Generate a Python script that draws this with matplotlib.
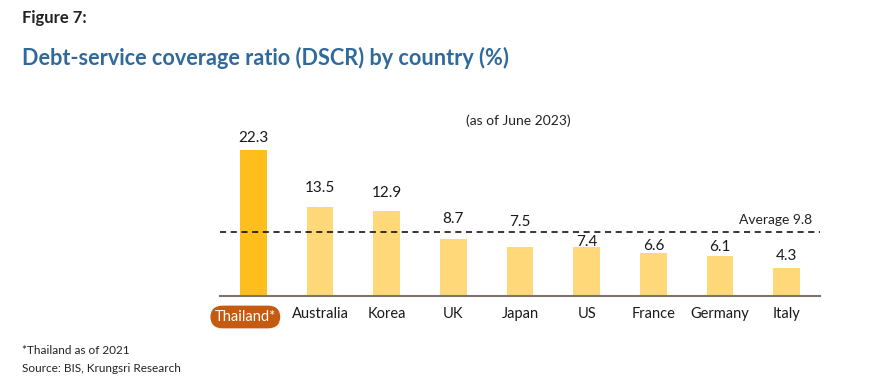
import matplotlib.pyplot as plt

plt.rcParams["font.family"] = ["Lato", "DejaVu Sans"]

countries = ["Thailand*", "Australia", "Korea", "UK", "Japan", "US", "France", "Germany", "Italy"]
dscr = [22.3, 13.5, 12.9, 8.7, 7.5, 7.4, 6.6, 6.1, 4.3]
average = 9.8

HIGHLIGHT = "#FDBE1E"
BAR = "#FFD87A"
TITLE_BLUE = "#2F6A9B"
BOX = "#C55A11"

# gap (px) between bar top and label baseline, hand-placed like in the original
label_gap = [8, 15, 14, 16, 21, 1, 3, 5, 8]

fig = plt.figure(figsize=(8.7, 3.87), dpi=100)
ax = fig.add_axes([220 / 870, 1 - 296 / 387, 600 / 870, 166 / 387])

x = list(range(len(countries)))
colors = [HIGHLIGHT] + [BAR] * (len(countries) - 1)
ax.bar(x, dscr, width=0.4, color=colors, zorder=2)
for xi, v, g in zip(x, dscr, label_gap):
    ax.annotate(f"{v:.1f}", (xi, v), xytext=(0, g), textcoords="offset pixels",
                ha="center", va="baseline", fontsize=11, color="#1a1a1a")

ax.axhline(average, color="black", linestyle=(0, (4, 3)), linewidth=1.1, zorder=3)
ax.text(len(countries) - 0.62, average + 0.9, f"Average {average}", ha="right", va="bottom",
        fontsize=10, color="#222222")
ax.text(0.498, 1.02, "(as of June 2023)", transform=ax.transAxes, ha="center", va="bottom",
        fontsize=10, color="#222222")

ax.set_xlim(-0.5, len(countries) - 0.5)
ax.set_ylim(0, 25.3)
ax.set_yticks([])
ax.set_xticks(x)
ax.set_xticklabels([""] + countries[1:], fontsize=10.5, color="#1a1a1a")
ax.tick_params(axis="x", length=0, pad=8)
for s in ["top", "right", "left"]:
    ax.spines[s].set_visible(False)
ax.spines["bottom"].set_color("#7f7370")
ax.spines["bottom"].set_linewidth(1.5)

# highlighted country label in a rounded box, a bit left of its bar
ax.annotate(countries[0], (0, 0), xytext=(-8, -21), textcoords="offset pixels",
            ha="center", va="center", fontsize=10.5, color="white",
            bbox=dict(boxstyle="round,pad=0.3,rounding_size=0.85", facecolor=BOX, edgecolor="none"))

fig.text(22 / 870, 1 - 18 / 387, "Figure 7:", fontsize=12, fontweight="bold", color="#222222",
         ha="left", va="center")
fig.text(22 / 870, 1 - 58 / 387, "Debt-service coverage ratio (DSCR) by country (%)", fontsize=15.6,
         fontweight="bold", color=TITLE_BLUE, ha="left", va="center")
fig.text(22 / 870, 1 - 351 / 387, "*Thailand as of 2021", fontsize=8.5, color="#222222",
         ha="left", va="center")
fig.text(22 / 870, 1 - 368 / 387, "Source: BIS, Krungsri Research", fontsize=8.5, color="#222222",
         ha="left", va="center")

fig.savefig("out.png", dpi=100)
